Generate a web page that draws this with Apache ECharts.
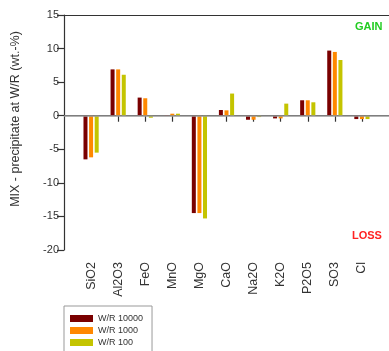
<!DOCTYPE html>
<html>
<head>
<meta charset="utf-8">
<script src="https://cdn.jsdelivr.net/npm/echarts@6/dist/echarts.min.js"></script>
<style>html,body{margin:0;padding:0;background:#fff}#c{width:389px;height:351px}</style>
</head>
<body>
<div id="c"></div>
<script>
const categories = ["", "SiO2", "Al2O3", "FeO", "MnO", "MgO", "CaO", "Na2O", "K2O", "P2O5", "SO3", "Cl", ""];
const seriesNames = ["W/R 10000", "W/R 1000", "W/R 100"];
const wr10000 = [null, -6.5, 6.9, 2.7, 0.1, -14.5, 0.85, -0.6, -0.4, 2.3, 9.7, -0.5, null];
const wr1000  = [null, -6.2, 6.9, 2.6, 0.3, -14.5, 0.8, -0.6, -0.4, 2.3, 9.5, -0.5, null];
const wr100   = [null, -5.5, 6.1, -0.3, 0.3, -15.3, 3.3, -0.2, 1.8, 2.0, 8.3, -0.5, null];
const yTicks = [-20, -15, -10, -5, 0, 5, 10, 15];
const colors = ["#7a0000", "#ff8800", "#c4c400"];

const font = "Liberation Sans, Arial, sans-serif";
const chart = echarts.init(document.getElementById('c'), null, {renderer: 'canvas'});
const dataSets = [wr10000, wr1000, wr100];
chart.setOption({
  animation: false,
  textStyle: {fontFamily: font},
  grid: {left: 64, top: 15, bottom: 101, right: -3, containLabel: false},
  xAxis: [{
    type: 'category', data: categories, boundaryGap: false,
    axisLine: {lineStyle: {color: '#333', width: 1.2}},
    axisTick: {length: 6, lineStyle: {color: '#333', width: 1.2}, interval: (i, v) => v !== ''},
    axisLabel: {rotate: 90, margin: 12, fontSize: 12.5, color: '#333', fontFamily: font, interval: 0},
    splitLine: {show: false}
  }, {
    type: 'category', data: categories, boundaryGap: false, position: 'top',
    axisLine: {lineStyle: {color: '#333', width: 1.2}},
    axisTick: {show: false}, axisLabel: {show: false}, splitLine: {show: false}
  }],
  yAxis: {
    type: 'value', min: yTicks[0], max: yTicks[yTicks.length - 1], interval: 5,
    axisLine: {show: true, lineStyle: {color: '#333', width: 1.2}},
    axisTick: {show: true, length: 7, lineStyle: {color: '#333', width: 1.2}},
    axisLabel: {fontSize: 11, color: '#333', margin: 5, fontFamily: font},
    splitLine: {show: false}
  },
  legend: {
    orient: 'vertical', left: 64, top: 306, height: 60, width: 100,
    itemWidth: 23, itemHeight: 7, itemGap: 3,
    padding: [8, 9, 10, 6],
    borderColor: '#999', borderWidth: 1,
    icon: 'rect',
    textStyle: {fontSize: 9, color: '#333', fontFamily: font},
    data: seriesNames
  },
  graphic: [
    {type: 'text', left: 355, top: 21, style: {text: 'GAIN', fill: '#22cc22', font: 'bold 11px ' + font}},
    {type: 'text', left: 352, top: 230, style: {text: 'LOSS', fill: '#ff2222', font: 'bold 11px ' + font}},
    {type: 'text', x: 16, y: 119, rotation: Math.PI / 2,
     style: {text: 'MIX - precipitate at W/R (wt.-%)', fill: '#333', font: '12.5px ' + font, align: 'center', verticalAlign: 'middle'}}
  ],
  series: seriesNames.map((n, i) => ({
    name: n, type: 'bar', data: dataSets[i], barWidth: 4, barGap: '40%',
    itemStyle: {color: colors[i]},
    markLine: i === 0 ? {silent: true, symbol: 'none', label: {show: false},
      lineStyle: {color: '#999', width: 1.5, type: 'solid'}, data: [{yAxis: 0}]} : undefined,
    z: 3
  }))
});
</script>
</body>
</html>
